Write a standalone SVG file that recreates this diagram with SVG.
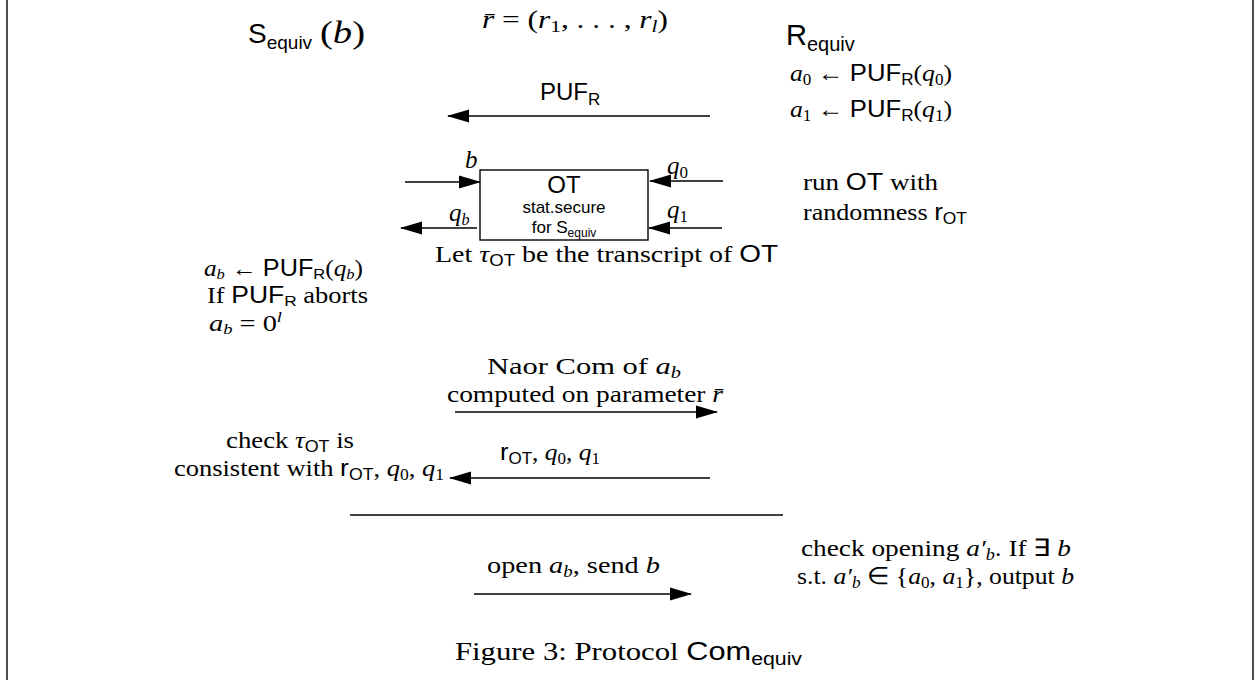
<svg xmlns="http://www.w3.org/2000/svg" width="1257" height="680" viewBox="0 0 1257 680">
<style>
text{font-family:"Liberation Serif","Times New Roman",serif;fill:#000}
.s{font-family:"Liberation Sans",Arial,sans-serif}
.i{font-style:italic}
.ln{stroke:#000;stroke-width:1.4;fill:none}
</style>
<defs>
<marker id="ah" markerWidth="22" markerHeight="14" refX="21" refY="7" orient="auto" markerUnits="userSpaceOnUse"><path d="M0,0.5 L22,7 L0,13.5 z" fill="#000"/></marker>
</defs>
<rect width="1257" height="680" fill="#fff"/>
<g id="frame"><line class="ln" x1="7" y1="0" x2="7" y2="680" stroke-width="2"/><line class="ln" x1="1253" y1="0" x2="1253" y2="680" stroke-width="2"/></g>

<g id="sender-title"><text x="248" y="43" font-size="28" class="s">S<tspan font-size="19" dy="6">equiv</tspan></text><text x="320" y="43" font-size="31" textLength="45" lengthAdjust="spacingAndGlyphs">(<tspan class="i">b</tspan>)</text></g>
<g id="param"><text x="482" y="28" font-size="25" textLength="186" lengthAdjust="spacingAndGlyphs"><tspan class="i">r̄</tspan> = (<tspan class="i">r</tspan><tspan font-size="17" dy="4">1</tspan><tspan dy="-4">, . . . , </tspan><tspan class="i">r</tspan><tspan font-size="17" dy="4" class="i">l</tspan><tspan dy="-4">)</tspan></text></g>
<g id="receiver-title"><text x="786" y="45" font-size="29" class="s">R<tspan font-size="20" dy="6">equiv</tspan></text></g>
<g id="receiver-puf">
<text x="790" y="81" font-size="24" textLength="162" lengthAdjust="spacingAndGlyphs"><tspan class="i">a</tspan><tspan font-size="16" dy="4">0</tspan><tspan dy="-4"> ← </tspan><tspan class="s">PUF</tspan><tspan class="s" font-size="16" dy="4">R</tspan><tspan dy="-4">(</tspan><tspan class="i">q</tspan><tspan font-size="16" dy="4">0</tspan><tspan dy="-4">)</tspan></text>
<text x="790" y="117" font-size="24" textLength="162" lengthAdjust="spacingAndGlyphs"><tspan class="i">a</tspan><tspan font-size="16" dy="4">1</tspan><tspan dy="-4"> ← </tspan><tspan class="s">PUF</tspan><tspan class="s" font-size="16" dy="4">R</tspan><tspan dy="-4">(</tspan><tspan class="i">q</tspan><tspan font-size="16" dy="4">1</tspan><tspan dy="-4">)</tspan></text>
</g>
<g id="puf-label"><text x="540" y="100" font-size="24" class="s">PUF<tspan font-size="17" dy="5">R</tspan></text></g>

<g id="ot-box">
<rect x="480" y="170" width="168" height="70" fill="#fff" stroke="#000" stroke-width="1.4"/>
<text x="564" y="193" font-size="24" class="s" text-anchor="middle">OT</text>
<text x="564" y="213" font-size="17" class="s" text-anchor="middle">stat.secure</text>
<text x="564" y="233" font-size="17" class="s" text-anchor="middle">for S<tspan font-size="12" dy="4">equiv</tspan></text>
</g>

<g id="ot-labels">
<text x="465" y="168" font-size="25" class="i">b</text>
<text x="449" y="221" font-size="25" class="i">q<tspan font-size="16" dy="4">b</tspan></text>
<text x="667" y="174" font-size="25" class="i">q<tspan font-size="17" dy="4" font-style="normal">0</tspan></text>
<text x="667" y="218" font-size="25" class="i">q<tspan font-size="17" dy="4" font-style="normal">1</tspan></text>
<text x="435" y="262" font-size="24" textLength="343" lengthAdjust="spacingAndGlyphs">Let <tspan class="i">τ</tspan><tspan class="s" font-size="16" dy="4">OT</tspan><tspan dy="-4"> be the transcript of </tspan><tspan class="s">OT</tspan></text>
</g>

<g id="receiver-ot">
<text x="803" y="190" font-size="24" textLength="135" lengthAdjust="spacingAndGlyphs">run <tspan class="s">OT</tspan> with</text>
<text x="803" y="220" font-size="24" textLength="164" lengthAdjust="spacingAndGlyphs">randomness <tspan class="s">r</tspan><tspan class="s" font-size="16" dy="4">OT</tspan></text>
</g>

<g id="sender-puf">
<text x="204" y="276" font-size="23" textLength="159" lengthAdjust="spacingAndGlyphs"><tspan class="i">a</tspan><tspan font-size="15" dy="3" class="i">b</tspan><tspan dy="-3"> ← </tspan><tspan class="s">PUF</tspan><tspan class="s" font-size="15" dy="3">R</tspan><tspan dy="-3">(</tspan><tspan class="i">q</tspan><tspan font-size="15" dy="3" class="i">b</tspan><tspan dy="-3">)</tspan></text>
<text x="207" y="303" font-size="23" textLength="161" lengthAdjust="spacingAndGlyphs">If <tspan class="s">PUF</tspan><tspan class="s" font-size="15" dy="3">R</tspan><tspan dy="-3"> aborts</tspan></text>
<text x="209" y="331" font-size="23" textLength="73" lengthAdjust="spacingAndGlyphs"><tspan class="i">a</tspan><tspan font-size="15" dy="3" class="i">b</tspan><tspan dy="-3"> = 0</tspan><tspan font-size="15" dy="-9" class="i">l</tspan></text>
</g>

<g id="naor-label">
<text x="487" y="374" font-size="24" textLength="194" lengthAdjust="spacingAndGlyphs">Naor Com of <tspan class="i">a</tspan><tspan font-size="16" dy="4" class="i">b</tspan></text>
<text x="447" y="402" font-size="24" textLength="276" lengthAdjust="spacingAndGlyphs">computed on parameter <tspan class="i">r̄</tspan></text>
</g>

<g id="reveal-label">
<text x="500" y="460" font-size="24" textLength="100" lengthAdjust="spacingAndGlyphs"><tspan class="s">r</tspan><tspan class="s" font-size="16" dy="4">OT</tspan><tspan dy="-4">, </tspan><tspan class="i">q</tspan><tspan font-size="16" dy="4">0</tspan><tspan dy="-4">, </tspan><tspan class="i">q</tspan><tspan font-size="16" dy="4">1</tspan></text>
</g>

<g id="sender-check">
<text x="226" y="448" font-size="24" textLength="128" lengthAdjust="spacingAndGlyphs">check <tspan class="i">τ</tspan><tspan class="s" font-size="16" dy="4">OT</tspan><tspan dy="-4"> is</tspan></text>
<text x="174" y="476" font-size="24" textLength="270" lengthAdjust="spacingAndGlyphs">consistent with <tspan class="s">r</tspan><tspan class="s" font-size="16" dy="4">OT</tspan><tspan dy="-4">, </tspan><tspan class="i">q</tspan><tspan font-size="16" dy="4">0</tspan><tspan dy="-4">, </tspan><tspan class="i">q</tspan><tspan font-size="16" dy="4">1</tspan></text>
</g>

<g id="open-label">
<text x="487" y="573" font-size="24" textLength="173" lengthAdjust="spacingAndGlyphs">open <tspan class="i">a</tspan><tspan font-size="16" dy="4" class="i">b</tspan><tspan dy="-4">, send </tspan><tspan class="i">b</tspan></text>
</g>

<g id="receiver-check">
<text x="801" y="556" font-size="24" textLength="270" lengthAdjust="spacingAndGlyphs">check opening <tspan class="i">a′</tspan><tspan font-size="16" dy="4" class="i">b</tspan><tspan dy="-4">. If ∃ </tspan><tspan class="i">b</tspan></text>
<text x="797" y="584" font-size="24" textLength="277" lengthAdjust="spacingAndGlyphs">s.t. <tspan class="i">a′</tspan><tspan font-size="16" dy="4" class="i">b</tspan><tspan dy="-4"> ∈ {</tspan><tspan class="i">a</tspan><tspan font-size="16" dy="4">0</tspan><tspan dy="-4">, </tspan><tspan class="i">a</tspan><tspan font-size="16" dy="4">1</tspan><tspan dy="-4">}, output </tspan><tspan class="i">b</tspan></text>
</g>

<g id="caption">
<text x="455" y="660" font-size="26" textLength="347" lengthAdjust="spacingAndGlyphs">Figure 3: Protocol <tspan class="s">Com</tspan><tspan class="s" font-size="18" dy="5">equiv</tspan></text>
</g>

<g id="connectors">
<line class="ln" x1="710" y1="116" x2="448" y2="116" marker-end="url(#ah)"/>
<line class="ln" x1="405" y1="182" x2="480" y2="182" marker-end="url(#ah)"/>
<line class="ln" x1="477" y1="228" x2="401" y2="228" marker-end="url(#ah)"/>
<line class="ln" x1="723" y1="181" x2="650" y2="181" marker-end="url(#ah)"/>
<line class="ln" x1="722" y1="228" x2="649" y2="228" marker-end="url(#ah)"/>
<line class="ln" x1="455" y1="412" x2="717" y2="412" marker-end="url(#ah)"/>
<line class="ln" x1="710" y1="478" x2="450" y2="478" marker-end="url(#ah)"/>
<line class="ln" x1="350" y1="515" x2="783" y2="515"/>
<line class="ln" x1="474" y1="594" x2="691" y2="594" marker-end="url(#ah)"/>
</g>
</svg>
